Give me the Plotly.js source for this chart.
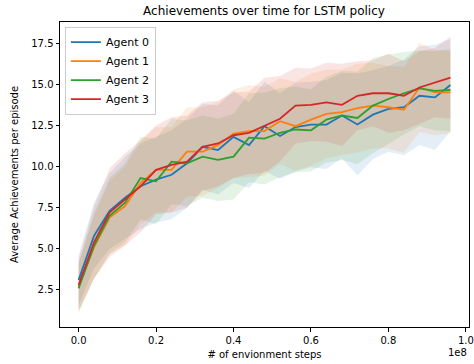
<!DOCTYPE html>
<html>
<head>
<meta charset="utf-8">
<script src="https://cdn.plot.ly/plotly-3.0.1.min.js"></script>
<style>html,body{margin:0;padding:0;background:#fff;}#chart{width:474px;height:364px;}</style>
</head>
<body>
<div id="chart"></div>
<script>
// environment steps (x)
const steps = [0, 4e6, 8e6, 12e6, 16e6, 20e6, 24e6, 28e6, 32e6, 36e6, 40e6, 44e6, 48e6,
               52e6, 56e6, 60e6, 64e6, 68e6, 72e6, 76e6, 80e6, 84e6, 88e6, 92e6, 96e6];

const agentNames = ["Agent 0", "Agent 1", "Agent 2", "Agent 3"];
const agentColors = ["#1f77b4", "#ff7f0e", "#2ca02c", "#d62728"];
const agentFills = ["rgba(31,119,180,0.12)", "rgba(255,127,14,0.12)", "rgba(44,160,44,0.12)", "rgba(214,39,40,0.12)"];

// mean achievements per episode
const agent0Mean = [3.1, 5.8, 7.3, 8.1, 8.8, 9.2, 9.5, 10.2, 11.2, 11.0, 11.8, 11.3, 12.45, 11.85, 12.4, 12.55, 12.55, 13.1, 12.55, 13.15, 13.5, 13.6, 14.3, 14.2, 14.95];
const agent1Mean = [2.7, 5.1, 6.9, 7.6, 9.0, 9.8, 9.8, 10.9, 10.9, 11.3, 12.0, 12.15, 12.15, 12.75, 12.45, 12.85, 13.2, 13.3, 13.55, 13.7, 13.6, 13.45, 14.8, 14.5, 14.5];
const agent2Mean = [2.6, 5.2, 7.0, 7.8, 9.3, 9.1, 10.3, 10.2, 10.6, 10.4, 10.6, 11.75, 11.7, 12.05, 12.25, 12.2, 12.85, 13.1, 12.95, 13.7, 14.1, 14.45, 14.75, 14.6, 14.65];
const agent3Mean = [2.8, 5.4, 7.2, 8.0, 8.8, 9.8, 10.1, 10.3, 11.2, 11.4, 11.9, 12.05, 12.5, 12.9, 13.7, 13.75, 13.9, 13.75, 14.3, 14.45, 14.45, 14.3, 14.8, 15.1, 15.4];

// spread (std) per agent
const agent0Std = [1.5, 2.0, 2.3, 2.5, 2.6, 2.6, 2.7, 2.7, 2.6, 2.7, 2.8, 2.6, 2.7, 2.6, 2.7, 2.6, 2.7, 2.6, 3.1, 2.7, 2.6, 2.9, 3.0, 3.2, 2.8];
const agent1Std = [1.4, 1.9, 2.2, 2.4, 2.5, 2.6, 2.6, 2.7, 2.7, 2.6, 2.7, 2.8, 2.7, 2.6, 2.7, 2.8, 2.7, 2.6, 2.7, 2.6, 2.5, 2.6, 2.7, 2.6, 2.5];
const agent2Std = [1.5, 2.0, 2.3, 2.4, 2.5, 2.6, 2.6, 2.6, 2.5, 2.5, 2.6, 2.7, 2.8, 2.7, 2.6, 2.5, 2.6, 2.7, 2.8, 2.9, 2.7, 2.5, 2.3, 2.4, 2.5];
const agent3Std = [1.6, 2.2, 2.7, 2.8, 2.8, 2.7, 2.9, 2.8, 2.7, 2.6, 2.6, 2.5, 2.9, 2.6, 2.3, 2.2, 2.4, 2.5, 2.1, 2.0, 2.4, 2.1, 2.2, 2.1, 2.5];

const xTickVals = [0, 2e7, 4e7, 6e7, 8e7, 1e8];
const xTickText = ["0.0", "0.2", "0.4", "0.6", "0.8", "1.0"];
const yTickVals = [2.5, 5.0, 7.5, 10.0, 12.5, 15.0, 17.5];
const yTickText = ["2.5", "5.0", "7.5", "10.0", "12.5", "15.0", "17.5"];

const means = [agent0Mean, agent1Mean, agent2Mean, agent3Mean];
const stds = [agent0Std, agent1Std, agent2Std, agent3Std];

const traces = [];
for (let a = 0; a < 4; a++) {
  const up = means[a].map((m, i) => m + stds[a][i]);
  const lo = means[a].map((m, i) => m - stds[a][i]);
  traces.push({
    x: steps.concat(steps.slice().reverse()),
    y: up.concat(lo.slice().reverse()),
    type: "scatter", mode: "lines", fill: "toself",
    fillcolor: agentFills[a], line: {width: 0, color: "rgba(0,0,0,0)"},
    showlegend: false, hoverinfo: "skip"
  });
}
for (let a = 0; a < 4; a++) {
  traces.push({
    x: steps, y: means[a], type: "scatter", mode: "lines",
    name: agentNames[a], line: {color: agentColors[a], width: 1.8}
  });
}

const font = {family: "DejaVu Sans, sans-serif", size: 10, color: "#000"};
const layout = {
  width: 474, height: 364,
  margin: {l: 60, r: 5, t: 22, b: 37},
  paper_bgcolor: "#fff", plot_bgcolor: "#fff",
  font: font,
  title: {text: "Achievements over time for LSTM policy", font: {family: "DejaVu Sans, sans-serif", size: 12, color: "#000"},
          x: 0.557, xanchor: "center", y: 0.97, yanchor: "middle"},
  xaxis: {
    range: [-4.8e6, 100.8e6], tickvals: xTickVals, ticktext: xTickText,
    showgrid: false, zeroline: false, showline: true, linecolor: "#000", linewidth: 1, mirror: true,
    ticks: "outside", ticklen: 3.5, tickcolor: "#000", tickfont: font,
    title: {text: "# of envionment steps", font: font, standoff: 6}
  },
  yaxis: {
    range: [0.25, 18.78], tickvals: yTickVals, ticktext: yTickText,
    showgrid: false, zeroline: false, showline: true, linecolor: "#000", linewidth: 1, mirror: true,
    ticks: "outside", ticklen: 3.5, tickcolor: "#000", tickfont: font,
    title: {text: "Average Achievements per episode", font: font, standoff: 10}
  },
  legend: {
    x: 0.012, y: 0.985, xanchor: "left", yanchor: "top",
    bgcolor: "rgba(255,255,255,0.8)", bordercolor: "#ccc", borderwidth: 1,
    font: {family: "DejaVu Sans, sans-serif", size: 11, color: "#000"},
    tracegroupgap: 0, itemwidth: 30
  },
  annotations: [{
    text: "1e8", xref: "paper", yref: "paper", x: 1.0, y: 0, yshift: -18,
    xanchor: "right", yanchor: "top", showarrow: false, font: font
  }],
  showlegend: true
};

Plotly.newPlot("chart", traces, layout, {displayModeBar: false, staticPlot: true});
</script>
</body>
</html>
